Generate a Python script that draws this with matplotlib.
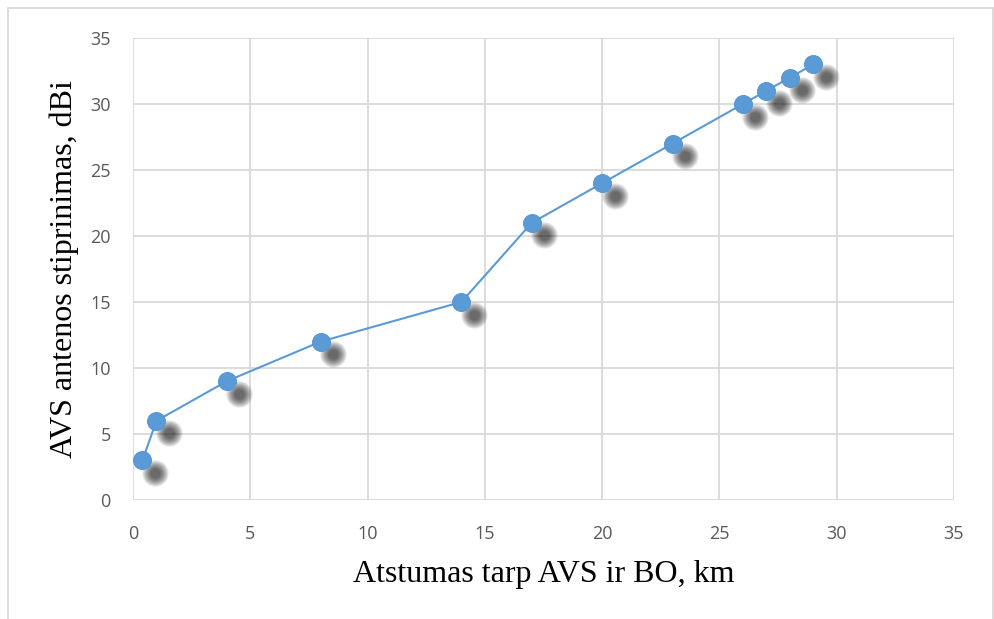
import matplotlib.pyplot as plt
from matplotlib.transforms import offset_copy
from matplotlib.lines import Line2D

# atstumas km ir stiprinimas dBi
atstumas = [0.4, 1, 4, 8, 14, 17, 20, 23, 26, 27, 28, 29]
stiprinimas = [3, 6, 9, 12, 15, 21, 24, 27, 30, 31, 32, 33]
x_ticks = [0, 5, 10, 15, 20, 25, 30, 35]
y_ticks = [0, 5, 10, 15, 20, 25, 30, 35]

melyna = "#5b9bd5"
pilka = "#d9d9d9"

fig = plt.figure(figsize=(9.95, 6.19), dpi=100)
ax = fig.add_axes([133 / 995, 1 - 500 / 619, (954 - 133) / 995, (500 - 38) / 619])

# seselis po taskais (susilieja is keliu sluoksniu)
sesel = offset_copy(ax.transData, fig=fig, x=9, y=-9, units="points")
for dydis in [19, 17.5, 16, 14.5, 13, 11.5, 10, 8.5, 7]:
    ax.plot(atstumas, stiprinimas, "o", ms=dydis, color="black", alpha=0.09,
            mec="none", transform=sesel, zorder=2)

ax.plot(atstumas, stiprinimas, "-", color=melyna, lw=1.5, zorder=3)
ax.plot(atstumas, stiprinimas, "o", ms=13, color=melyna, mec="#4f92d2", mew=0.6, zorder=4)

ax.set_xlim(0, 35)
ax.set_ylim(0, 35)
ax.set_xticks(x_ticks)
ax.set_yticks(y_ticks)
ax.grid(True, color=pilka, lw=1.3)
ax.set_axisbelow(True)
for s in ax.spines.values():
    s.set_visible(False)
ax.tick_params(length=0, labelsize=13, labelcolor="#595959")
ax.tick_params(axis="x", pad=18)
ax.tick_params(axis="y", pad=16)
for lab in ax.get_xticklabels() + ax.get_yticklabels():
    lab.set_family("Open Sans")

ax.set_xlabel("Atstumas tarp AVS ir BO, km", family="Liberation Serif", fontsize=23, labelpad=12)
ax.set_ylabel("AVS antenos stiprinimas, dBi", family="Liberation Serif", fontsize=23, labelpad=8)

# remelis aplink visa diagrama
l, t, r = 8 / 995, 1 - 8 / 619, 993 / 995
fig.add_artist(Line2D([l, r], [t, t], color=pilka, lw=1.3, transform=fig.transFigure))
fig.add_artist(Line2D([l, l], [0, t], color=pilka, lw=1.3, transform=fig.transFigure))
fig.add_artist(Line2D([r, r], [0, t], color=pilka, lw=1.3, transform=fig.transFigure))

fig.savefig("out.png", dpi=100)
